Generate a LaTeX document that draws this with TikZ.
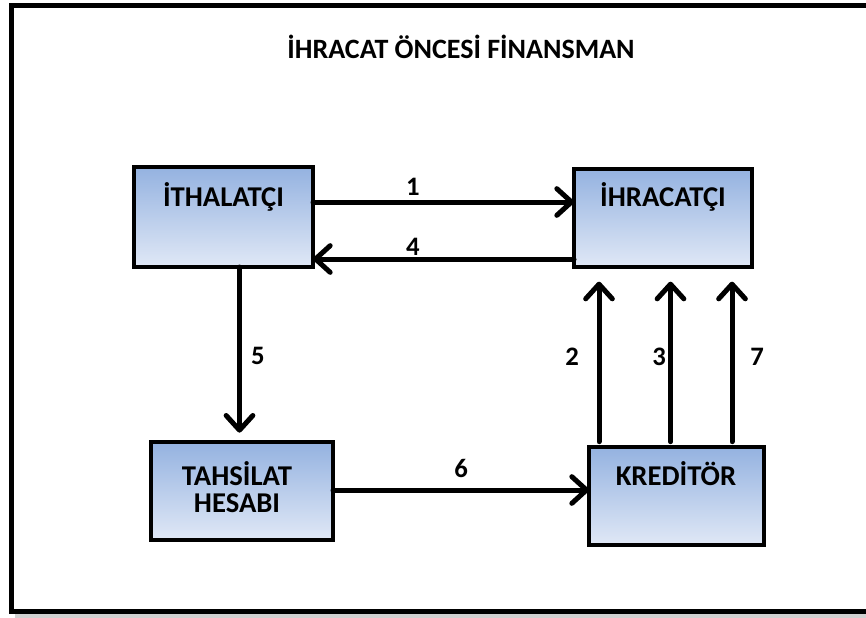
\documentclass[tikz,border=0pt]{standalone}
\usepackage{fontspec}
\setmainfont{Carlito}
\usetikzlibrary{arrows.meta}
\definecolor{boxtop}{HTML}{94B2E0}
\definecolor{boxbot}{HTML}{E0E8F6}
\tikzset{
  box/.style={draw=black, line width=2.4pt, rectangle, outer sep=0pt, inner sep=0pt,
    top color=boxtop, bottom color=boxbot, minimum height=73.5pt},
  boxtext/.style={font=\fontsize{21.5}{20.5}\selectfont\bfseries, align=center, inner sep=0pt},
  titletext/.style={font=\fontsize{21}{22}\selectfont\bfseries, inner sep=0pt},
  numlabel/.style={font=\fontsize{20}{21}\selectfont\bfseries, inner sep=0pt},
  arr/.style={line width=3.75pt, line cap=round, line join=round,
    -{Straight Barb[length=11pt, width=20pt, line cap=round, line join=round]}},
}
\begin{document}
\begin{tikzpicture}[x=0.75pt, y=-0.75pt]
\useasboundingbox (0,0) rectangle (866,617);
% outer frame with a soft shadow
\draw[line width=3.75pt, black!18] (15,615) -- (880,615);
\draw[line width=3.75pt] (880,5.5) -- (11.5,5.5) -- (11.5,611.5) -- (880,611.5);

% title
\node[titletext] (title) at (461,47) {İHRACAT ÖNCESİ FİNANSMAN};

% boxes
\node[box, minimum width=134.25pt, minimum height=75pt] (imp) at (223.5,217) {};
\node[box, minimum width=133.5pt] (exp) at (663,218) {};
\node[box, minimum width=136.5pt] (tah) at (242,491) {};
\node[box, minimum width=131.25pt] (kred) at (676.5,496) {};

% box captions
\node[boxtext] (impt) at (223.5,197) {İTHALATÇI};
\node[boxtext] (expt) at (663,197) {İHRACATÇI};
\node[boxtext] (taht) at (237,487) {TAHSİLAT\\HESABI};
\node[boxtext] (kredt) at (676,474) {KREDİTÖR};

% heights and columns of the connectors
\coordinate (r1) at (0,202);
\coordinate (r4) at (0,259);
\coordinate (r6) at (0,490);
\coordinate (c5) at (239.5,0);
\coordinate (c2) at (599,0);
\coordinate (c3) at (670.5,0);
\coordinate (c7) at (732,0);

% connectors
\draw[arr] (imp.east |- r1) -- (exp.west |- r1);
\draw[arr] (exp.west |- r4) -- (imp.east |- r4);
\draw[arr, shorten >=7pt] (imp.south -| c5) -- (tah.north -| c5);
\draw[arr] (tah.east |- r6) -- (kred.west |- r6);
\draw[arr, shorten >=11pt, shorten <=4pt] (kred.north -| c2) -- (exp.south -| c2);
\draw[arr, shorten >=11pt, shorten <=4pt] (kred.north -| c3) -- (exp.south -| c3);
\draw[arr, shorten >=11pt, shorten <=4pt] (kred.north -| c7) -- (exp.south -| c7);

% step numbers
\node[numlabel] (n1) at (413,187) {1};
\node[numlabel] (n4) at (413,247) {4};
\node[numlabel] (n5) at (258,356) {5};
\node[numlabel] (n6) at (461,468) {6};
\node[numlabel] (n2) at (572,357) {2};
\node[numlabel] (n3) at (659,357) {3};
\node[numlabel] (n7) at (757,357) {7};
\end{tikzpicture}
\end{document}
